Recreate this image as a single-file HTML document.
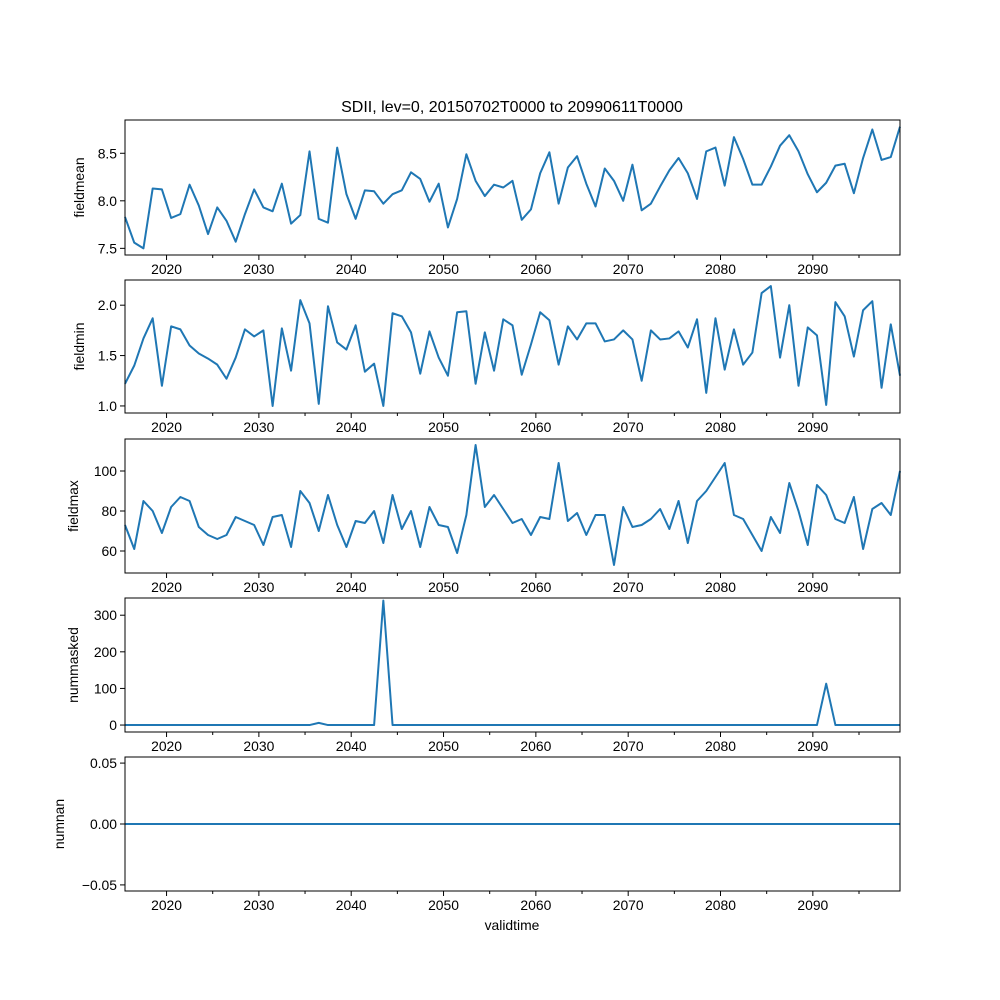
<!DOCTYPE html>
<html><head><meta charset="utf-8">
<style>
html,body{margin:0;padding:0;background:#fff;}
svg{display:block;font-family:"Liberation Sans","DejaVu Sans",sans-serif;}
</style></head>
<body>
<svg id="fig" width="1000" height="1000" viewBox="0 0 1000 1000">
<rect width="1000" height="1000" fill="#fff"/>
<text x="512" y="112" font-size="16" text-anchor="middle">SDII, lev=0, 20150702T0000 to 20990611T0000</text>
<text x="512" y="930" font-size="13.9" text-anchor="middle">validtime</text>
</svg>
<script>
const fieldmean=[7.83,7.56,7.50,8.13,8.12,7.82,7.86,8.17,7.95,7.65,7.93,7.79,7.57,7.86,8.12,7.93,7.89,8.18,7.76,7.85,8.52,7.81,7.77,8.56,8.07,7.81,8.11,8.10,7.97,8.07,8.11,8.30,8.23,7.99,8.18,7.72,8.02,8.49,8.21,8.05,8.17,8.14,8.21,7.80,7.91,8.29,8.51,7.97,8.35,8.47,8.18,7.94,8.34,8.21,8.00,8.38,7.90,7.97,8.15,8.32,8.45,8.29,8.02,8.52,8.56,8.16,8.67,8.44,8.17,8.17,8.36,8.58,8.69,8.52,8.28,8.09,8.19,8.37,8.39,8.08,8.45,8.75,8.43,8.46,8.78];
const fieldmin=[1.22,1.40,1.67,1.87,1.20,1.79,1.76,1.60,1.52,1.47,1.41,1.27,1.48,1.76,1.69,1.75,1.00,1.77,1.35,2.05,1.82,1.02,1.99,1.63,1.56,1.80,1.34,1.42,1.00,1.92,1.89,1.73,1.32,1.74,1.48,1.30,1.93,1.94,1.22,1.73,1.35,1.86,1.80,1.31,1.61,1.93,1.85,1.41,1.79,1.66,1.82,1.82,1.64,1.66,1.75,1.66,1.25,1.75,1.66,1.67,1.74,1.58,1.86,1.13,1.87,1.36,1.76,1.41,1.53,2.12,2.19,1.48,2.00,1.20,1.78,1.70,1.01,2.03,1.89,1.49,1.95,2.04,1.18,1.81,1.30];
const fieldmax=[73,61,85,80,69,82,87,85,72,68,66,68,77,75,73,63,77,78,62,90,84,70,88,73,62,75,74,80,64,88,71,80,62,82,73,72,59,78,113,82,88,81,74,76,68,77,76,104,75,79,68,78,78,53,82,72,73,76,81,71,85,64,85,90,97,104,78,76,68,60,77,69,94,80,63,93,88,76,74,87,61,81,84,78,100];
const nummasked=[0,0,0,0,0,0,0,0,0,0,0,0,0,0,0,0,0,0,0,0,0,6,0,0,0,0,0,0,340,0,0,0,0,0,0,0,0,0,0,0,0,0,0,0,0,0,0,0,0,0,0,0,0,0,0,0,0,0,0,0,0,0,0,0,0,0,0,0,0,0,0,0,0,0,0,0,113,0,0,0,0,0,0,0,0];
const numnan=[0,0,0,0,0,0,0,0,0,0,0,0,0,0,0,0,0,0,0,0,0,0,0,0,0,0,0,0,0,0,0,0,0,0,0,0,0,0,0,0,0,0,0,0,0,0,0,0,0,0,0,0,0,0,0,0,0,0,0,0,0,0,0,0,0,0,0,0,0,0,0,0,0,0,0,0,0,0,0,0,0,0,0,0,0];
const xTickLabels=[2020,2030,2040,2050,2060,2070,2080,2090];
const meanTicks=["7.5","8.0","8.5"], minTicks=["1.0","1.5","2.0"], maxTicks=["60","80","100"], maskTicks=["0","100","200","300"], nanTicks=["−0.05","0.00","0.05"];
const meanTickVals=[7.5,8.0,8.5], minTickVals=[1.0,1.5,2.0], maxTickVals=[60,80,100], maskTickVals=[0,100,200,300], nanTickVals=[-0.05,0,0.05];

const NS="http://www.w3.org/2000/svg";
const svg=document.getElementById('fig');
const X0=125,X1=900,T0=2015.5,T1=2099.44;
const xs=t=>X0+(t-T0)/(T1-T0)*(X1-X0);
function el(tag,attrs,parent){const e=document.createElementNS(NS,tag);for(const k in attrs)e.setAttribute(k,attrs[k]);(parent||svg).appendChild(e);return e;}
const panels=[
 {name:"fieldmean",data:fieldmean,top:120,bot:255,ymin:7.43,ymax:8.85,tv:meanTickVals,tl:meanTicks},
 {name:"fieldmin",data:fieldmin,top:280,bot:413,ymin:0.93,ymax:2.25,tv:minTickVals,tl:minTicks},
 {name:"fieldmax",data:fieldmax,top:439,bot:573,ymin:49,ymax:116,tv:maxTickVals,tl:maxTicks},
 {name:"nummasked",data:nummasked,top:598,bot:732,ymin:-19,ymax:347,tv:maskTickVals,tl:maskTicks},
 {name:"numnan",data:numnan,top:757,bot:891,ymin:-0.055,ymax:0.055,tv:nanTickVals,tl:nanTicks}
];
panels.forEach(p=>{
 const g=el('g',{});
 
 
 const ys=v=>p.bot-(v-p.ymin)/(p.ymax-p.ymin)*(p.bot-p.top);
 // line
 const pts=p.data.map((v,i)=>{const t=T0+i*(T1-T0)/(p.data.length-1);return xs(t).toFixed(2)+','+ys(v).toFixed(2);}).join(' ');
 const line=el('polyline',{points:pts,fill:'none',stroke:'#1f77b4','stroke-width':2,'stroke-linejoin':'round'},g);
 
 
 // frame
 const fr=el('rect',{x:X0,y:p.top,width:X1-X0,height:p.bot-p.top,fill:'none',stroke:'#000','stroke-width':1},g);
 
 
 // x ticks
 for(let yr=2020;yr<=2095;yr+=5){
  const x=xs(yr);const major=yr%10===0;
  el('line',{x1:x,x2:x,y1:p.bot,y2:p.bot+(major?5:3),stroke:'#000','stroke-width':1},g);
 }
 xTickLabels.forEach(yr=>{
  const t=el('text',{x:xs(yr),y:p.bot+19,'font-size':13.9,'text-anchor':'middle'},g);
  t.textContent=yr;
  
  
 });
 // y ticks
 p.tv.forEach((v,i)=>{
  const y=ys(v);
  el('line',{x1:X0-5,x2:X0,y1:y,y2:y,stroke:'#000','stroke-width':1},g);
  const t=el('text',{x:X0-8,y:y+5,'font-size':13.9,'text-anchor':'end'},g);
  t.textContent=p.tl[i];
  
  
 });
 const cy=(p.top+p.bot)/2;
 const lx=p.name==='fieldmean'?84:(p.name==='fieldmin'?84:(p.name==='fieldmax'?78:(p.name==='nummasked'?78:64)));
 const yl=el('text',{x:lx,y:cy,'font-size':13.9,'text-anchor':'middle',transform:`rotate(-90 ${lx} ${cy})`},g);
 yl.textContent=p.name;
 
 
});
</script>
</body></html>
